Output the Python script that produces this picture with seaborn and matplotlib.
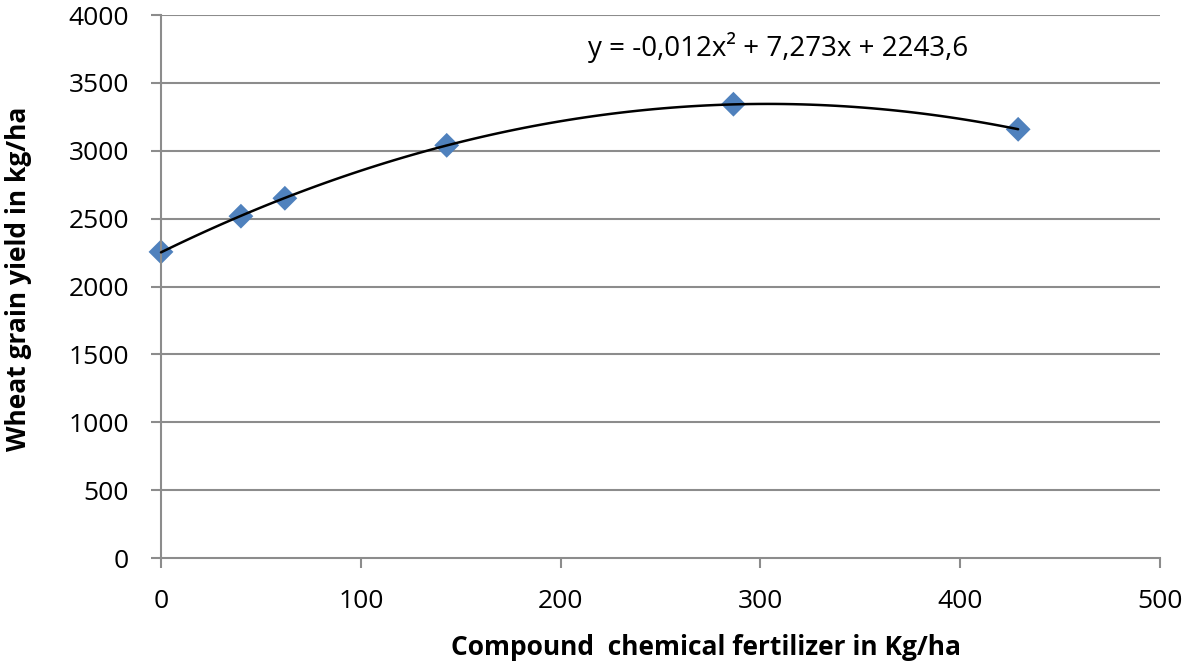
import numpy as np
import pandas as pd
import seaborn as sns
from matplotlib import pyplot as plt

# data
fertilizer = [0, 40, 62, 143, 286.5, 429]
yield_kg = [2255, 2518, 2650, 3040, 3343, 3158]
x_ticks = [0, 100, 200, 300, 400, 500]
y_ticks = [0, 500, 1000, 1500, 2000, 2500, 3000, 3500, 4000]
equation = 'y = -0,012x² + 7,273x + 2243,6'

df = pd.DataFrame({'fert': fertilizer, 'yield': yield_kg})

sns.set_theme(style='white')
plt.rcParams['font.family'] = ['Open Sans', 'DejaVu Sans']
plt.rcParams['text.color'] = 'black'
plt.rcParams['axes.labelcolor'] = 'black'

fig = plt.figure(figsize=(11.82, 6.64), dpi=100)
ax = fig.add_axes([0.1362, 0.1596, 0.8452, 0.8178])

grid_col = '#8c8c8c'
for yv in y_ticks[1:]:
    ax.axhline(yv, color=grid_col, lw=1.5, zorder=0)

# data points
sns.scatterplot(data=df, x='fert', y='yield', marker='D', s=160,
                color='#4f81bd', edgecolor='none', ax=ax, zorder=2,
                clip_on=False)

# second order polynomial trend line
sns.regplot(data=df, x='fert', y='yield', order=2, ci=None, scatter=False,
            truncate=True, line_kws={'color': 'black', 'lw': 1.8}, ax=ax)
ax.lines[-1].set_zorder(3)
ax.lines[-1].set_clip_on(False)

ax.set_xlim(0, 500)
ax.set_ylim(0, 4000)
ax.set_xticks(x_ticks)
ax.set_yticks(y_ticks)

for side in ['top', 'right']:
    ax.spines[side].set_visible(False)
for side in ['left', 'bottom']:
    ax.spines[side].set_color(grid_col)
    ax.spines[side].set_linewidth(1.5)

ax.tick_params(axis='both', labelsize=19, labelcolor='black', length=7,
               width=1.5, color=grid_col, direction='out')
ax.tick_params(axis='x', pad=15)
ax.tick_params(axis='y', pad=16)
ax.tick_params(axis='both', which='both', bottom=True, left=True)

ax.set_xlabel('Compound  chemical fertilizer in Kg/ha', fontsize=19,
              fontweight='bold', labelpad=15)
ax.set_ylabel('Wheat grain yield in kg/ha', fontsize=19,
              fontweight='bold', labelpad=26)
ax.xaxis.label.set_x(0.5455)
ax.yaxis.label.set_y(0.514)

ax.text(0.618, 0.94, equation, transform=ax.transAxes, fontsize=20,
        ha='center', va='center')

fig.savefig('out.png', dpi=100)
